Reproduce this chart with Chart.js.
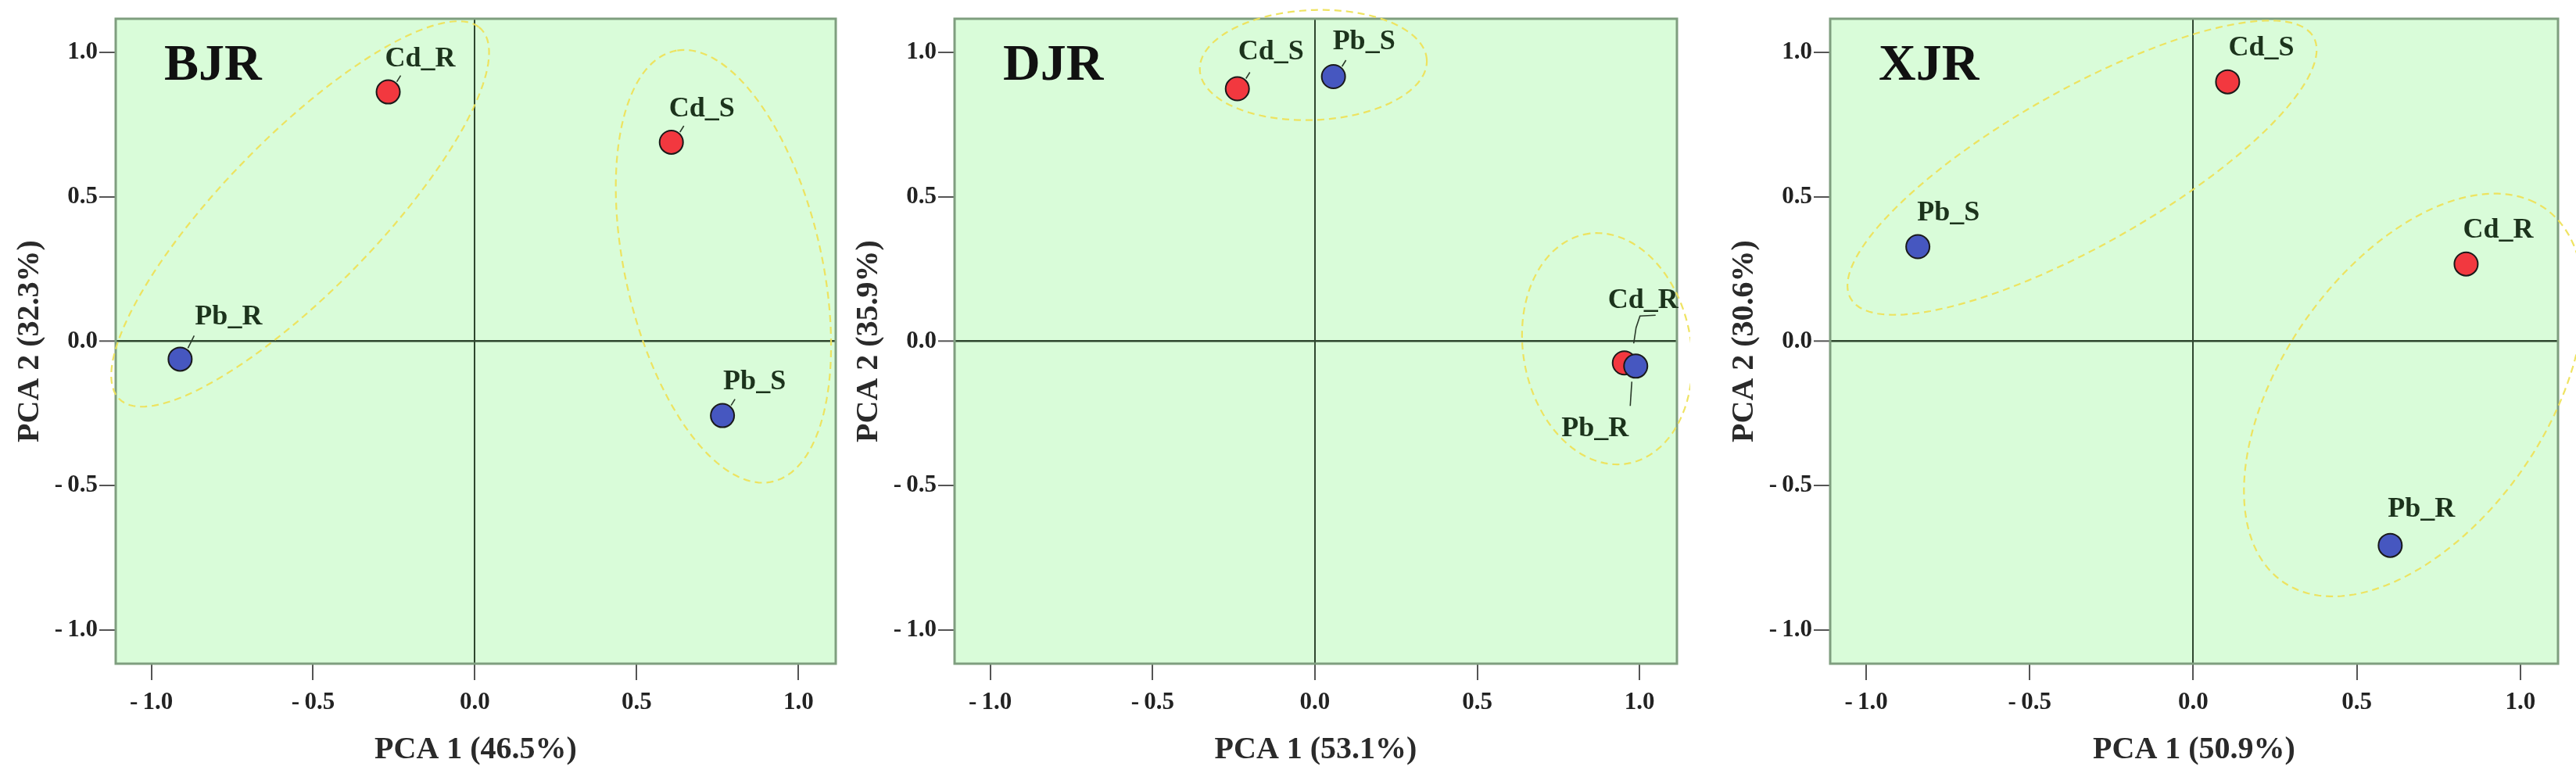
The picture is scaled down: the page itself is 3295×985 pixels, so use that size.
<!DOCTYPE html>
<html>
<head>
<meta charset="utf-8">
<script src="https://cdn.jsdelivr.net/npm/chart.js@4.4.1/dist/chart.umd.min.js"></script>
<style>
    html, body { margin: 0; padding: 0; background: #fff; }
    body { width: 3295px; height: 985px; position: relative; overflow: hidden; }
    canvas { position: absolute; top: 0; }
</style>
</head>
<body>
<canvas id="pcaBJR"></canvas>
<canvas id="pcaDJR"></canvas>
<canvas id="pcaXJR"></canvas>
<script>
// ===== Dados
const samples = ['Cd_R', 'Cd_S', 'Pb_R', 'Pb_S'];
const axisTicks = [-1.0, -0.5, 0.0, 0.5, 1.0];

const bjrPC1 = [-0.268, 0.607, -0.911, 0.765];
const bjrPC2 = [0.862, 0.688, -0.062, -0.257];
const djrPC1 = [0.953, -0.239, 0.988, 0.057];
const djrPC2 = [-0.075, 0.873, -0.086, 0.915];
const xjrPC1 = [0.834, 0.105, 0.602, -0.842];
const xjrPC2 = [0.267, 0.897, -0.706, 0.327];

// elipses: [centro x, centro y, semi-eixo a, semi-eixo b, ângulo em graus]
const bjrEllipses = [[-0.54, 0.44, 0.85, 0.25, 49.5], [0.768, 0.259, 0.76, 0.305, 101]];
const djrEllipses = [[-0.005, 0.955, 0.35, 0.19, 3], [0.90, -0.026, 0.402, 0.259, 97.6]];
const xjrEllipses = [[-0.34, 0.60, 0.84, 0.26, 33.2], [0.674, -0.186, 0.762, 0.417, 61]];

const panelNames = ['BJR', 'DJR', 'XJR'];
const xTitles = ['PCA 1 (46.5%)', 'PCA 1 (53.1%)', 'PCA 1 (50.9%)'];
const yTitles = ['PCA 2 (32.3%)', 'PCA 2 (35.9%)', 'PCA 2 (30.6%)'];

// ===== Estilo / posições (px)
const FONT = "'Liberation Serif', 'Times New Roman', serif";
const RED = '#f2383f';
const BLUE = '#4657c0';
const frames = [ // borda esquerda e direita da área do gráfico
    { left: 148, right: 1076, padR: 10 },
    { left: 1221, right: 2152, padR: 10 },
    { left: 2341, right: 3272, padR: 23 }
];
const Y_AXIS_W = 148, X_AXIS_H = 136, TOP = 24;

// deslocamento dos rótulos [dx, dy] e linha-guia (relativos ao ponto)
const shortLead = [[11, -13], [16, -21]];
const labelPos = [
    { Cd_R: [-4, -33, shortLead], Cd_S: [-3, -33, shortLead], Pb_R: [19, -44, [[10, -14], [18, -30]]], Pb_S: [1, -34, shortLead] },
    { Cd_R: [-21, -70, [[12, -25], [15, -45], [20, -60], [40, -61]]], Cd_S: [1, -38, shortLead], Pb_R: [-95, 90, [[-5, 20], [-7, 51]]], Pb_S: [-1, -35, shortLead] },
    { Cd_R: [-4, -34, null], Cd_S: [1, -34, null], Pb_R: [-3, -37, null], Pb_S: [-1, -34, null] }
];

const fmtTick = (v) => (v < 0 ? '-\u2009' : '') + Math.abs(v).toFixed(1);

// ===== Plugin: fundo, moldura, elipses, rótulos
const decor = {
    id: 'decor',
    beforeDraw(chart) {
        const { ctx, chartArea: a } = chart;
        ctx.save();
        ctx.fillStyle = '#d9fcd9';
        ctx.fillRect(a.left, a.top, a.right - a.left, a.bottom - a.top);
        ctx.restore();
    },
    beforeDatasetsDraw(chart, args, opts) {
        const { ctx, chartArea: a, scales: { x, y } } = chart;
        ctx.save();
        ctx.strokeStyle = '#7f9e7f';
        ctx.lineWidth = 3;
        ctx.strokeRect(a.left, a.top, a.right - a.left, a.bottom - a.top);

        ctx.strokeStyle = 'rgba(238, 226, 90, 0.95)';
        ctx.lineWidth = 2.2;
        ctx.setLineDash([9, 6]);
        opts.ellipses.forEach(([cx, cy, ra, rb, deg]) => {
            const t = deg * Math.PI / 180, c = Math.cos(t), s = Math.sin(t);
            ctx.beginPath();
            for (let i = 0; i <= 160; i++) {
                const u = i / 160 * 2 * Math.PI;
                const dx = ra * Math.cos(u), dy = rb * Math.sin(u);
                const px = x.getPixelForValue(cx + dx * c - dy * s);
                const py = y.getPixelForValue(cy + dx * s + dy * c);
                if (i) ctx.lineTo(px, py); else ctx.moveTo(px, py);
            }
            ctx.closePath();
            ctx.stroke();
        });
        ctx.restore();
    },
    afterDatasetsDraw(chart, args, opts) {
        const { ctx, chartArea: a } = chart;
        const meta = chart.getDatasetMeta(0);
        ctx.save();
        // nome do painel
        ctx.fillStyle = '#111';
        ctx.font = `bold 66px ${FONT}`;
        ctx.textBaseline = 'alphabetic';
        ctx.fillText(opts.name, a.left + 62, a.top + 78);

        // rótulos dos pontos
        ctx.font = `bold 36px ${FONT}`;
        samples.forEach((s, i) => {
            const pt = meta.data[i];
            const [dx, dy, lead] = opts.labels[s];
            if (lead) {
                ctx.strokeStyle = '#2a3a2a';
                ctx.lineWidth = 1.6;
                ctx.beginPath();
                lead.forEach(([lx, ly], k) => k ? ctx.lineTo(pt.x + lx, pt.y + ly) : ctx.moveTo(pt.x + lx, pt.y + ly));
                ctx.stroke();
            }
            ctx.fillStyle = '#1c331c';
            ctx.fillText(s, pt.x + dx, pt.y + dy);
        });
        ctx.restore();
    }
};

function axis(title, isX) {
    return {
        type: 'linear',
        min: isX ? -1.11 : -1.115,
        max: 1.115,
        afterBuildTicks: (s) => { s.ticks = axisTicks.map(v => ({ value: v })); },
        afterFit: (s) => { if (isX) s.height = X_AXIS_H; else s.width = Y_AXIS_W; },
        border: { display: false },
        grid: {
            drawOnChartArea: true,
            color: (c) => (c.tick && c.tick.value === 0) ? '#2f472f' : 'rgba(0,0,0,0)',
            lineWidth: (c) => (c.tick && c.tick.value === 0) ? (isX ? 2 : 2.6) : 0,
            tickColor: '#555',
            tickWidth: 2,
            tickLength: 21
        },
        ticks: {
            callback: fmtTick,
            autoSkip: false,
            maxRotation: 0,
            padding: isX ? 10 : 2,
            color: '#222',
            font: { family: FONT, size: 31, weight: 'bold' }
        },
        title: {
            display: true,
            text: title,
            color: '#2a2a2a',
            font: { family: FONT, size: 40, weight: 'bold' },
            padding: isX ? { top: 0, bottom: 1 } : { top: 15, bottom: 0 }
        }
    };
}

function makePanel(id, k, pc1, pc2, ellipses) {
    const f = frames[k];
    const canvas = document.getElementById(id);
    const left = f.left - Y_AXIS_W;
    canvas.style.left = left + 'px';
    canvas.width = f.right + f.padR - left;
    canvas.height = 985;

    new Chart(canvas, {
        type: 'scatter',
        data: {
            datasets: [{
                data: samples.map((s, i) => ({ x: pc1[i], y: pc2[i] })),
                backgroundColor: samples.map(s => s.startsWith('Cd') ? RED : BLUE),
                borderColor: '#1a1a1a',
                borderWidth: 2,
                pointRadius: 15,
                pointHoverRadius: 15
            }]
        },
        options: {
            responsive: false,
            animation: false,
            devicePixelRatio: 1,
            layout: { padding: { left: 0, right: f.padR, top: TOP, bottom: 0 } },
            plugins: {
                legend: { display: false },
                tooltip: { enabled: false },
                decor: { name: panelNames[k], ellipses, labels: labelPos[k] }
            },
            scales: { x: axis(xTitles[k], true), y: axis(yTitles[k], false) }
        },
        plugins: [decor]
    });
}

makePanel('pcaBJR', 0, bjrPC1, bjrPC2, bjrEllipses);
makePanel('pcaDJR', 1, djrPC1, djrPC2, djrEllipses);
makePanel('pcaXJR', 2, xjrPC1, xjrPC2, xjrEllipses);
</script>
</body>
</html>
